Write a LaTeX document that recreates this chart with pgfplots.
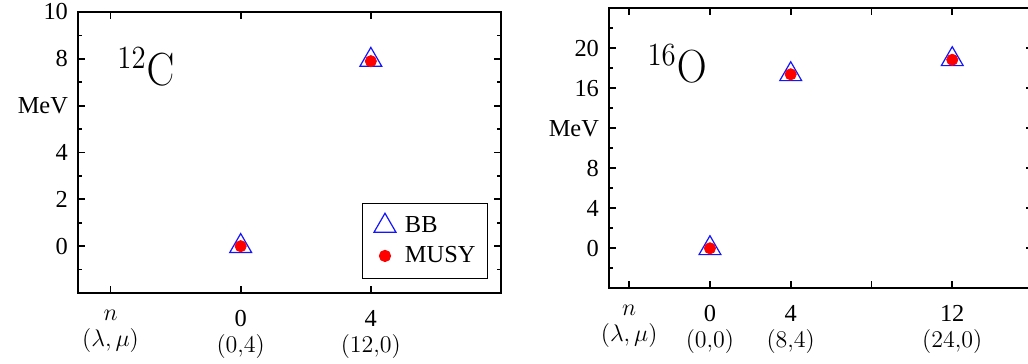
\documentclass[border=0pt]{standalone}
\usepackage[no-math]{fontspec}
\setmainfont{Liberation Serif}
\usepackage{graphicx}
\usepackage{pgfplots}
\pgfplotsset{compat=1.18}

\definecolor{bbblue}{RGB}{20,20,255}
\definecolor{musyred}{RGB}{255,0,0}

\pgfplotsset{
  levels/.style={
    scale only axis,
    clip=false,
    axis line style={line width=1pt},
    every tick/.style={black, line width=0.9pt},
    major tick length=3.5pt,
    minor tick length=2pt,
    tick align=inside,
    xticklabel style={align=center, font=\fontsize{12.2}{13}\selectfont, yshift=-5pt},
    yticklabel style={font=\fontsize{12.2}{13}\selectfont, xshift=-1.5pt},
  },
  bb/.style={only marks, mark=triangle, mark size=6.3pt, color=bbblue,
    mark options={line width=0.6pt, draw=bbblue, fill=none}},
  musy/.style={only marks, mark=*, mark size=2.8pt, color=musyred,
    mark options={draw=musyred, fill=musyred}},
}

\newcommand{\nucleus}[2]{\scalebox{1}[1.12]{\fontsize{20}{24}\selectfont$^{#1}\mathrm{#2}$}}

\begin{document}
\begin{tikzpicture}
\path[use as bounding box] (0pt,0pt) rectangle (514pt,-182pt);

% carbon-12
\begin{axis}[levels,
  at={(39pt,-146.5pt)}, anchor=south west,
  width=211.5pt, height=140.5pt,
  xmin=-5, xmax=8, ymin=-2, ymax=10,
  xtick={-4,0,4},
  xticklabels={{$n$\\$(\lambda,\mu)$},{0\\$(0{,}4)$},{4\\$(12{,}0)$}},
  ytick={0,2,4,6,8,10},
  yticklabels={0,2,4,MeV,8,10},
  minor ytick={-1,1,3,5,7,9},
  legend style={at={(1,0)}, anchor=south east, xshift=-6.5pt, yshift=7pt,
    draw=black, line width=0.5pt, font=\fontsize{12.2}{13}\selectfont,
    inner xsep=5pt, inner ysep=4.5pt, row sep=1.5pt,
    nodes={inner xsep=1pt}},
  legend image code/.code={%
    \path[draw=none, fill=none] (-6pt,0pt) rectangle (9pt,0pt);
    \draw[#1] plot coordinates {(0pt,0pt)};},
  legend cell align=left,
]
\addplot[bb] coordinates {(0,0) (4,7.95)};
\addlegendentry{BB}
\addplot[musy] coordinates {(0,0) (4,7.9)};
\addlegendentry{MUSY}
\node[anchor=base west, inner sep=0pt] at (axis cs:-3.8,6.88) {\nucleus{12}{C}};
\end{axis}

% oxygen-16
\begin{axis}[levels,
  at={(304.5pt,-144.15pt)}, anchor=south west,
  width=212pt, height=140pt,
  xmin=-5, xmax=16, ymin=-4, ymax=24,
  xtick={-4,0,4,8,12},
  xticklabels={{$n$\\$(\lambda,\mu)$},{0\\$(0{,}0)$},{4\\$(8{,}4)$},{},{12\\$(24{,}0)$}},
  ytick={0,4,8,12,16,20},
  yticklabels={0,4,8,MeV,16,20},
  minor ytick={-2,2,6,10,14,18,22},
]
\addplot[bb] coordinates {(0,0) (4,17.4) (12,18.9)};
\addplot[musy] coordinates {(0,0) (4,17.4) (12,18.85)};
\node[anchor=base west, inner sep=0pt] at (axis cs:-3.11,16.6) {\nucleus{16}{O}};
\end{axis}
\end{tikzpicture}
\end{document}
